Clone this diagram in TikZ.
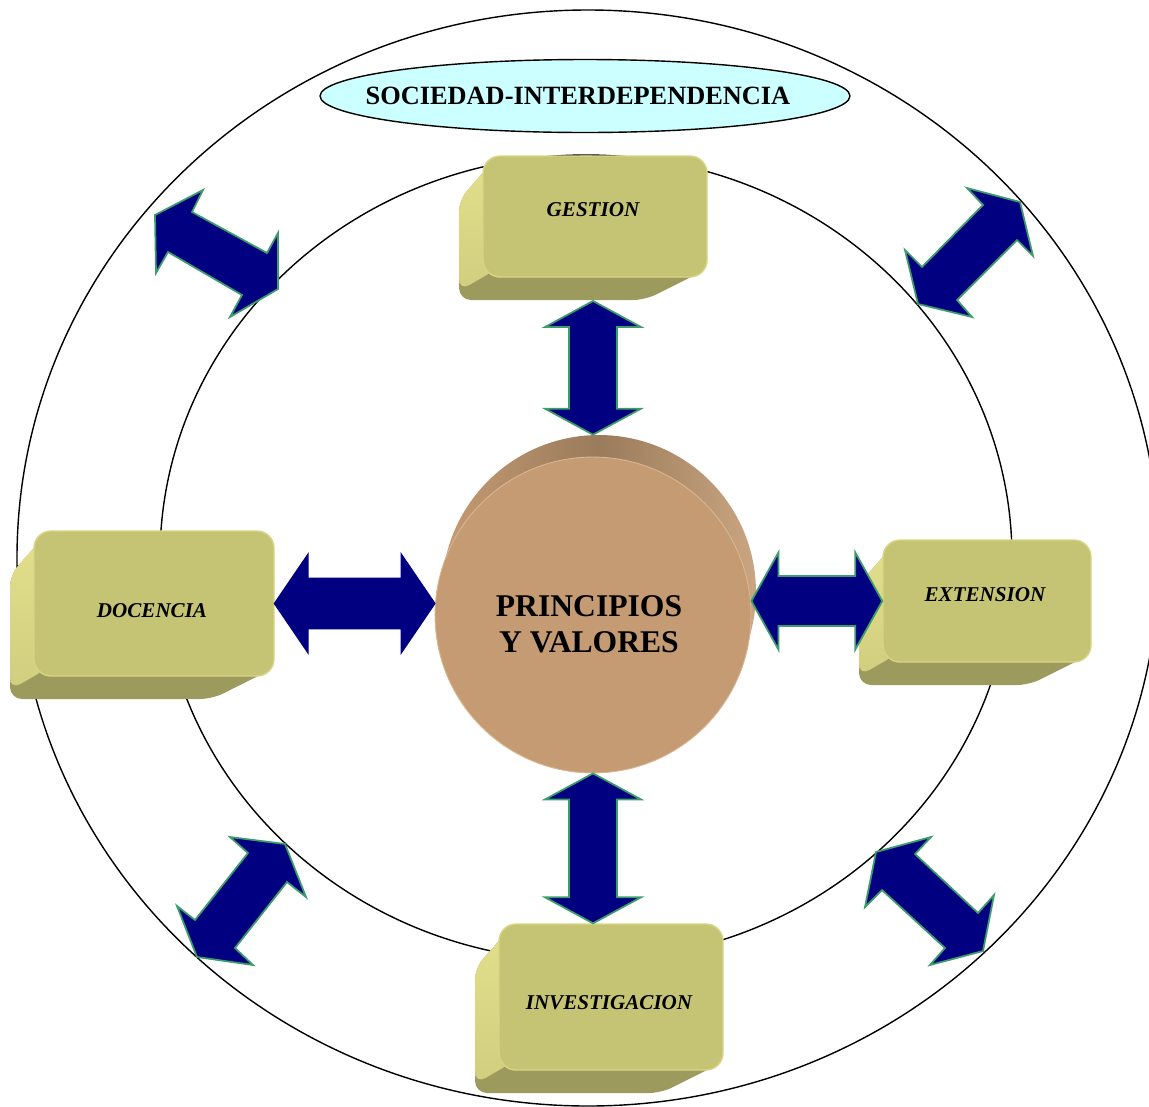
\documentclass[tikz,border=0pt]{standalone}
\usepackage{fontspec}
\setmainfont{Liberation Serif}
\usepackage{tikz}
\usetikzlibrary{calc}
\usetikzlibrary{shapes.geometric}

\definecolor{marino}{HTML}{000080}
\definecolor{verdeborde}{HTML}{3C9C6C}
\definecolor{cajafrente}{HTML}{C4C474}
\definecolor{cajaborde}{HTML}{D8D684}
\definecolor{cajalado}{HTML}{E2DF8B}
\definecolor{cajaabajo}{HTML}{9C9A5C}
\definecolor{celeste}{HTML}{CCFFFF}
\definecolor{tierra}{HTML}{C49B73}
\definecolor{tierraosc}{HTML}{9A7B5B}

% caja en relieve: nombre, x0, y0, x1, y1, y del texto, texto
\newcommand{\cajon}[7]{%
  \fill[cajaabajo, rounded corners=0.24cm] (#2+6,#3+10) -- (#2-24,#3+44) -- (#2-24,#5+23) -- (#4-62,#5+23) -- (#4-4,#5-6) -- (#2+6,#5-6) -- cycle;
  \shade[top color=cajalado, bottom color=cajalado!75!cajaabajo, rounded corners=0.24cm] (#2+6,#3+10) -- (#2-24,#3+44) -- (#2-24,#5+14) -- (#2+14,#5-8) -- cycle;
  \node[caja, minimum width={(#4-#2)*0.02cm}, minimum height={(#5-#3)*0.02cm}] (#1) at ({(#2+#4)/2},{(#3+#5)/2}) {};
  \coordinate (#1-base) at ({(#2+#4)/2},#5+24);
  \node[etiqueta] (#1-lbl) at ({(#2+#4)/2-2},#6) {#7};
}

% flecha doble: [estilo], desde, hasta, medio cuerpo, media punta, largo punta
\newcommand{\dobleflecha}[6][flecha]{%
  \coordinate (fa) at (#2);
  \coordinate (fb) at (#3);
  \coordinate (fha) at ($(fa)!#6!(fb)$);
  \coordinate (fhb) at ($(fb)!#6!(fa)$);
  \draw[#1] (fa) -- ($(fha)!#5!90:(fb)$) -- ($(fha)!#4!90:(fb)$) -- ($(fhb)!#4!-90:(fa)$) -- ($(fhb)!#5!-90:(fa)$) -- (fb)
    -- ($(fhb)!#5!90:(fa)$) -- ($(fhb)!#4!90:(fa)$) -- ($(fha)!#4!-90:(fb)$) -- ($(fha)!#5!-90:(fb)$) -- cycle;
}

\begin{document}
\begin{tikzpicture}[x=0.02cm, y=-0.02cm,
    anillo/.style={draw=black, line width=0.8pt},
    caja/.style={draw=cajaborde, fill=cajafrente, line width=0.8pt, rounded corners=0.34cm, inner sep=0pt},
    etiqueta/.style={font=\fontsize{12}{14}\selectfont\bfseries\itshape},
    flecha/.style={fill=marino, draw=verdeborde, line width=1pt, line join=miter}]
  \useasboundingbox (0,0) rectangle (1149,1106);

  % Anillos
  \draw[anillo] (588,558) ellipse [x radius=571, y radius=548];
  \draw[anillo] (586,558) ellipse [x radius=426, y radius=403];

  % Sociedad
  \node[ellipse, draw=black, fill=celeste, line width=0.8pt, minimum width=10.6cm, minimum height=1.46cm] (sociedad) at (585,96) {};
  \node[font=\fontsize{15}{18}\selectfont\bfseries] (sociedad-lbl) at (578,96) {SOCIEDAD-INTERDEPENDENCIA};

  % Cajas
  \cajon{gestion}{483}{156}{707}{277}{210}{GESTION}
  \cajon{docencia}{34}{531}{274}{676}{611}{DOCENCIA}
  \cajon{extension}{883}{540}{1091}{662}{595}{EXTENSION}
  \cajon{investigacion}{499}{924}{723}{1070}{1003}{INVESTIGACION}

  % Principios y valores
  \node[circle, inner sep=0pt, minimum size=6.28cm, left color=tierra, right color=tierra!90!white, middle color=tierraosc] (valores-back) at (599,592) {};
  \node[circle, inner sep=0pt, minimum size=6.32cm, fill=tierra, draw=tierra!85!orange!70!white, line width=0.5pt] (valores) at (593,615) {};
  \node[font=\fontsize{18}{20.5}\selectfont\bfseries, align=center] (valores-lbl) at (589,624) {PRINCIPIOS\\Y VALORES};

  % Flechas al centro
  \dobleflecha{gestion-base -| valores}{valores-back.north -| valores}{0.48cm}{0.96cm}{0.52cm}
  \dobleflecha{valores.south}{investigacion.north -| valores}{0.48cm}{0.96cm}{0.52cm}
  \dobleflecha[flecha, draw=marino]{docencia.east}{valores.west |- docencia.east}{0.5cm}{0.97cm}{0.66cm}
  \dobleflecha{valores.east |- extension.west}{extension.west}{0.5cm}{0.97cm}{0.54cm}

  % Flechas entre anillos
  \draw[flecha] (155,215) -- (203,190) -- (192,212) -- (267,253) -- (278,233) -- (278,289) -- (230,317) -- (242,295) -- (168,252) -- (156,273) -- cycle;
  \draw[flecha] (967,188) -- (1020,202) -- (1033,256) -- (1017,240) -- (957,300) -- (972,317) -- (918,304) -- (905,250) -- (922,267) -- (983,205) -- cycle;
  \draw[flecha] (230,837) -- (285,844) -- (306,897) -- (287,882) -- (235,948) -- (253,965) -- (197,957) -- (177,906) -- (195,920) -- (248,853) -- cycle;
  \draw[flecha] (876,852) -- (931,837) -- (915,854) -- (978,913) -- (994,895) -- (983,951) -- (930,965) -- (945,948) -- (882,890) -- (865,907) -- cycle;
\end{tikzpicture}
\end{document}
